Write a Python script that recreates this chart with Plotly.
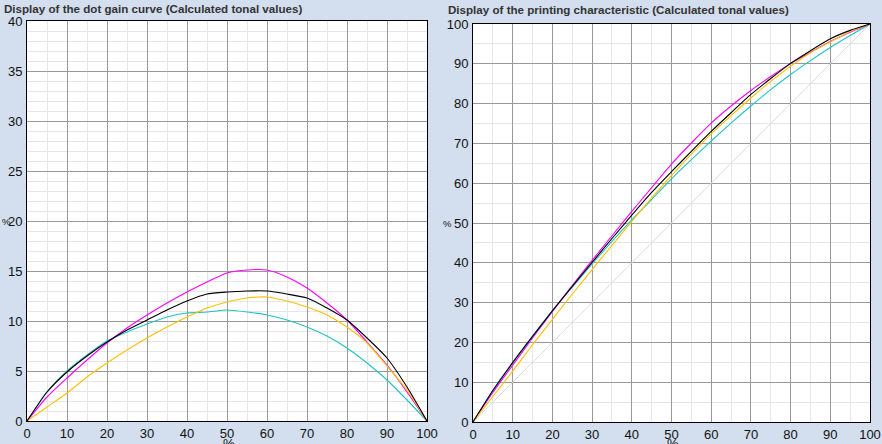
import plotly.graph_objects as go

# tone values (%) shared by both charts
tone = [0, 5, 10, 15, 20, 25, 30, 35, 40, 45, 50, 55, 60, 65, 70, 75, 80, 85, 90, 95, 100]

# dot gain per channel (%)
gain_cyan = [0, 2.9, 5.0, 6.6, 8.0, 8.9, 9.7, 10.4, 10.8, 10.9, 11.1, 10.9, 10.6, 10.1, 9.4, 8.5, 7.3, 5.8, 4.1, 2.1, 0]
gain_magenta = [0, 2.4, 4.3, 6.1, 7.8, 9.3, 10.6, 11.8, 12.9, 13.9, 14.8, 15.1, 15.1, 14.4, 13.3, 11.8, 10.1, 7.9, 5.6, 2.9, 0]
gain_yellow = [0, 1.4, 2.8, 4.4, 5.8, 7.1, 8.3, 9.4, 10.4, 11.3, 11.9, 12.3, 12.4, 12.0, 11.4, 10.6, 9.4, 7.8, 5.5, 3.1, 0]
gain_black = [0, 2.9, 4.9, 6.5, 7.9, 9.1, 10.1, 11.1, 12.0, 12.7, 12.9, 13.0, 13.0, 12.7, 12.3, 11.3, 10.1, 8.3, 6.3, 3.4, 0]

# printing characteristic per channel (%)
print_cyan = [0, 7.9, 15.0, 21.6, 28.0, 33.9, 39.7, 45.4, 50.8, 55.9, 61.1, 65.9, 70.6, 75.1, 79.4, 83.5, 87.3, 90.8, 94.1, 97.1, 100]
print_magenta = [0, 7.4, 14.3, 21.1, 27.8, 34.3, 40.6, 46.8, 52.9, 58.9, 64.8, 70.1, 75.1, 79.4, 83.3, 86.8, 90.1, 92.9, 95.6, 97.9, 100]
print_yellow = [0, 6.4, 12.8, 19.4, 25.8, 32.1, 38.3, 44.4, 50.4, 56.3, 61.9, 67.3, 72.4, 77.0, 81.4, 85.6, 89.4, 92.8, 95.5, 98.1, 100]
print_black = [0, 7.9, 14.9, 21.5, 27.9, 34.1, 40.1, 46.1, 52.0, 57.7, 62.9, 68.0, 73.0, 77.7, 82.3, 86.3, 90.1, 93.3, 96.3, 98.4, 100]

linear_ref = [0, 100]

colors = {'cyan': '#1EC3C6', 'magenta': '#FF00FF', 'yellow': '#FFC000', 'black': '#000000'}

W, H = 882, 444
BG = '#D3DEEE'
FONT = 'Liberation Sans'

fig = go.Figure()

left_series = [('cyan', gain_cyan), ('magenta', gain_magenta), ('yellow', gain_yellow), ('black', gain_black)]
right_series = [('cyan', print_cyan), ('magenta', print_magenta), ('yellow', print_yellow), ('black', print_black)]

fig.add_trace(go.Scatter(x=linear_ref, y=linear_ref, mode='lines', xaxis='x2', yaxis='y2',
                         line=dict(color='#DADADA', width=1), showlegend=False, hoverinfo='skip'))

for name, vals in left_series:
    fig.add_trace(go.Scatter(x=tone, y=vals, mode='lines', name=name, showlegend=False,
                             line=dict(color=colors[name], width=1.1, shape='spline', smoothing=0.6)))
for name, vals in right_series:
    fig.add_trace(go.Scatter(x=tone, y=vals, mode='lines', name=name, showlegend=False,
                             xaxis='x2', yaxis='y2',
                             line=dict(color=colors[name], width=1.1, shape='spline', smoothing=0.6)))


def px_x(p):
    return p / W


def px_y(p):
    return 1 - p / H


def axis(domain, anchor, rng, dtick, minor_dtick):
    return dict(domain=domain, anchor=anchor, range=rng, dtick=dtick, tick0=0,
                showgrid=True, gridcolor='#999999', gridwidth=1,
                minor=dict(dtick=minor_dtick, tick0=0, showgrid=True, gridcolor='#E6E6E6', gridwidth=1),
                showline=True, linecolor='#000000', linewidth=1, mirror=True,
                zeroline=False, ticks='', fixedrange=True, automargin=False,
                tickfont=dict(family=FONT, size=13, color='#111111'))


fig.update_layout(
    width=W, height=H,
    margin=dict(l=0, r=0, t=0, b=0, autoexpand=False),
    paper_bgcolor=BG, plot_bgcolor='white',
    xaxis=axis([px_x(27), px_x(427)], 'y', [0, 100], 10, 5),
    yaxis=axis([px_y(421), px_y(21)], 'x', [0, 40], 5, 1),
    xaxis2=axis([px_x(473), px_x(870)], 'y2', [0, 100], 10, 5),
    yaxis2=axis([px_y(422), px_y(24)], 'x2', [0, 100], 10, 5),
)
fig.update_yaxes(ticklabelstandoff=1)
fig.update_xaxes(ticklabelstandoff=0)

title_font = dict(family=FONT, size=11.6, color='#333333')
label_font = dict(family=FONT, size=13, color='#111111')
pct_font = dict(family=FONT, size=9.5, color='#111111')
texts = [
    ('<b>Display of the dot gain curve (Calculated tonal values)</b>', 2, 8, 'left', title_font),
    ('<b>Display of the printing characteristic (Calculated tonal values)</b>', 446, 10, 'left', title_font),
    ('%', 0, 221, 'left', pct_font),
    ('%', 441, 223, 'left', pct_font),
    ('%', 229, 443, 'center', label_font),
    ('%', 673, 443, 'center', label_font),
]
for txt, x, y, anchor, font in texts:
    fig.add_annotation(text=txt, x=px_x(x), y=px_y(y), xref='paper', yref='paper',
                       xanchor=anchor, yanchor='middle', showarrow=False, font=font)

fig.write_html("out.html", config={'displayModeBar': False},
               post_script="document.body.style.margin='0';document.body.style.overflow='hidden';")
